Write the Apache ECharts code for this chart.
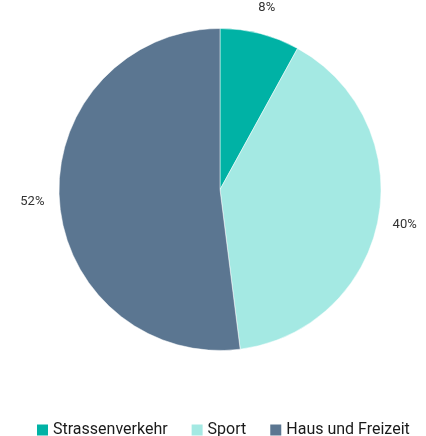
<!DOCTYPE html>
<html>
<head>
<meta charset="utf-8">
<script src="https://cdn.jsdelivr.net/npm/echarts@6/dist/echarts.min.js"></script>
<style>
  html, body { margin: 0; padding: 0; background: #fff; }
  #chart { width: 426px; height: 436px; }
</style>
</head>
<body>
<div id="chart"></div>
<script>
var categories = ['Strassenverkehr', 'Sport', 'Haus und Freizeit'];
var shares = [8, 40, 52];
var colors = ['#00b2a5', '#a4e9e3', '#5b7691'];

var fontFam = 'Roboto, sans-serif';
var chart = echarts.init(document.getElementById('chart'));

var pieData = categories.map(function (c, i) { return { name: c, value: shares[i] }; });

chart.setOption({
  animation: false,
  color: colors,
  legend: {
    top: 417,
    left: 32,
    width: 394,
    icon: 'rect',
    itemWidth: 11,
    itemHeight: 11,
    itemGap: 24,
    itemStyle: { borderWidth: 0 },
    textStyle: { fontSize: 16, color: '#1a1a1a', fontFamily: fontFam },
    data: categories
  },
  series: [{
    type: 'pie',
    center: [220, 189.5],
    radius: 161,
    startAngle: 90,
    clockwise: true,
    itemStyle: { borderColor: '#fff', borderWidth: 0.5 },
    label: { show: false },
    labelLine: { show: false },
    emphasis: { disabled: true },
    data: pieData
  }, {
    // transparent ring only used to place the percentage labels
    type: 'pie',
    center: [220, 189.5],
    radius: [161, 209],
    startAngle: 90,
    clockwise: true,
    silent: true,
    avoidLabelOverlap: false,
    itemStyle: { color: 'rgba(0,0,0,0)' },
    label: {
      position: 'inside',
      formatter: '{c}%',
      fontSize: 13,
      color: '#333',
      fontFamily: fontFam,
      overflow: 'none'
    },
    labelLine: { show: false },
    emphasis: { disabled: true },
    data: pieData
  }]
});
</script>
</body>
</html>
